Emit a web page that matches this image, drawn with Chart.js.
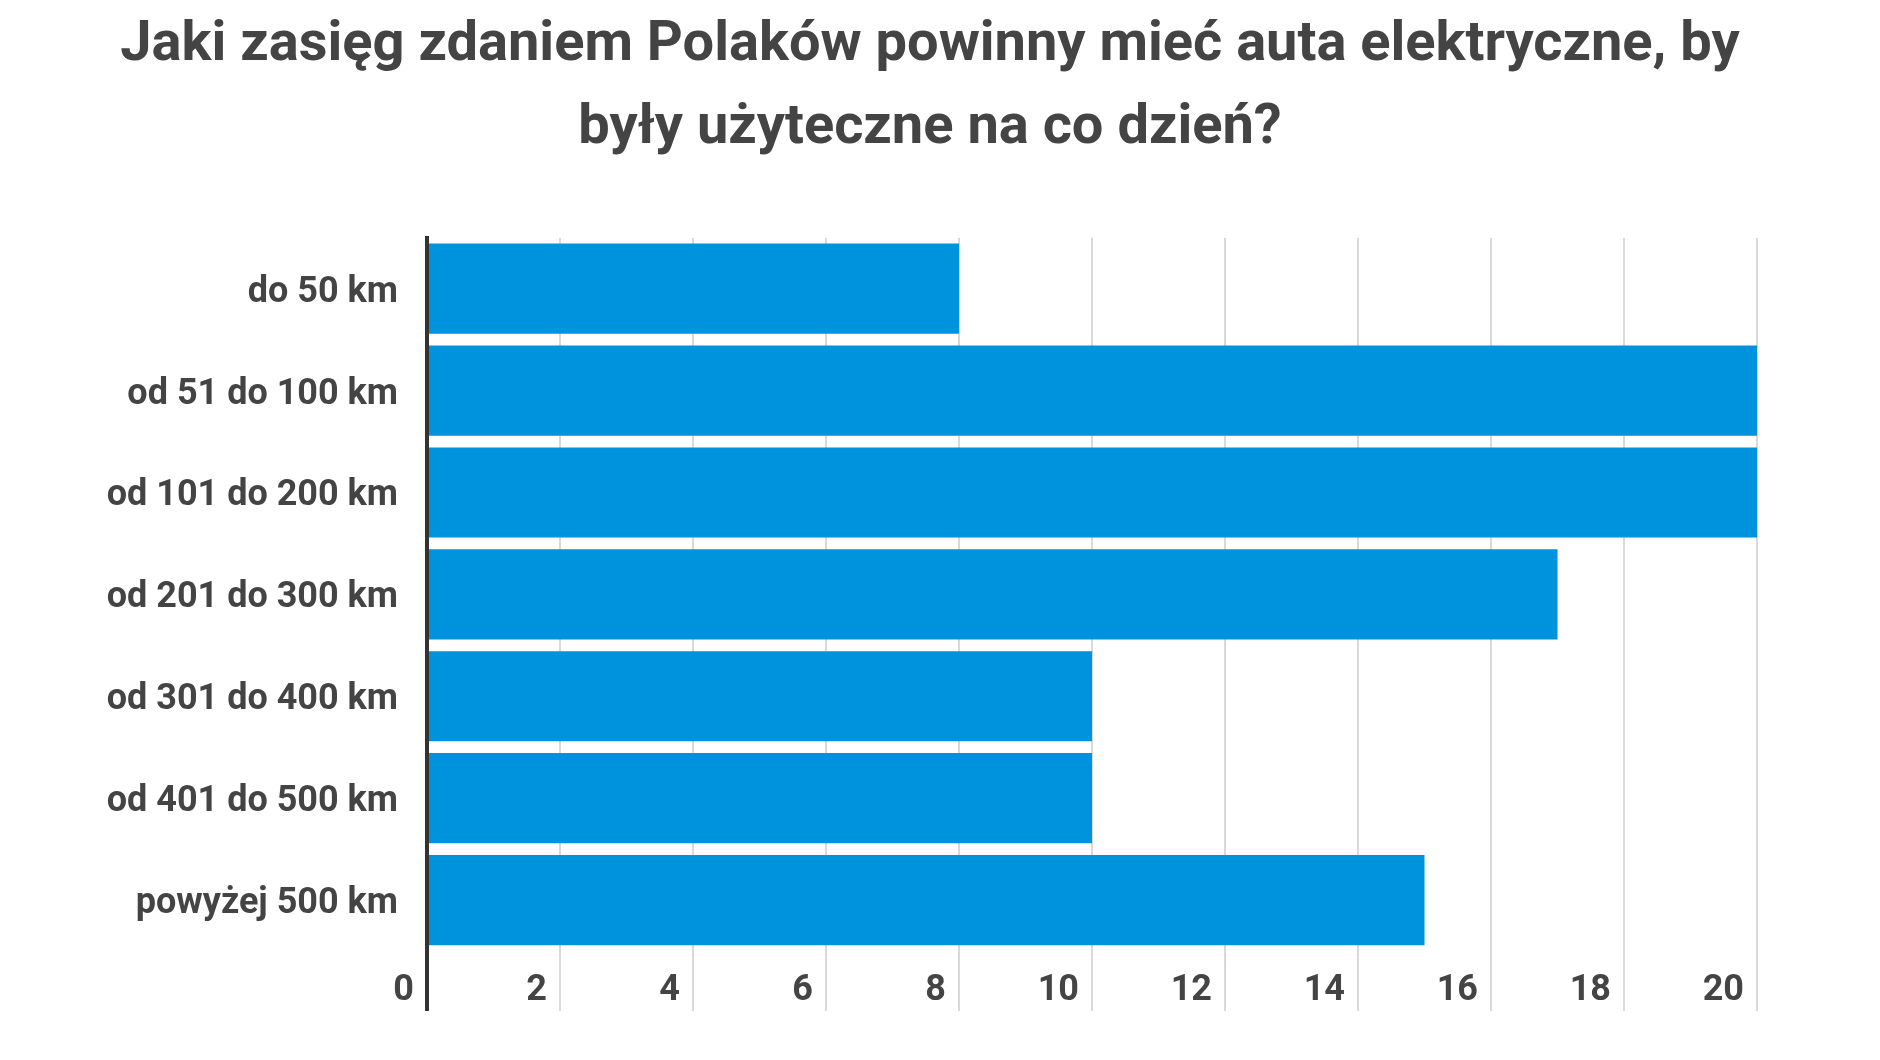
<!DOCTYPE html>
<html lang="pl">
<head>
<meta charset="utf-8">
<title>Zasięg aut elektrycznych</title>
<script src="https://cdn.jsdelivr.net/npm/chart.js@4.4.1/dist/chart.umd.min.js"></script>
<style>
  html, body { margin: 0; padding: 0; background: #fff; }
  #wrap { width: 1880px; height: 1060px; position: relative; }
</style>
</head>
<body>
<div id="wrap"><canvas id="chart"></canvas></div>
<script>
// dane z wykresu
const titleLines = ['Jaki zasięg zdaniem Polaków powinny mieć auta elektryczne, by', 'były użyteczne na co dzień?'];
const categories = ['do 50 km', 'od 51 do 100 km', 'od 101 do 200 km', 'od 201 do 300 km', 'od 301 do 400 km', 'od 401 do 500 km', 'powyżej 500 km'];
const values = [8, 20, 20, 17, 10, 10, 15];
const xMin = 0, xMax = 20, xStep = 2;

const textColor = '#444444';
const barColor = '#0093dd';

new Chart(document.getElementById('chart'), {
  type: 'bar',
  data: {
    labels: categories,
    datasets: [{
      data: values,
      backgroundColor: barColor,
      borderWidth: 0,
      barPercentage: 1,
      categoryPercentage: 0.885
    }]
  },
  options: {
    indexAxis: 'y',
    responsive: true,
    maintainAspectRatio: false,
    animation: false,
    layout: { padding: { left: 0, right: 20, top: 0, bottom: 0 } },
    plugins: {
      legend: { display: false },
      tooltip: { enabled: false },
      title: {
        display: true,
        text: titleLines,
        color: textColor,
        font: { family: 'Roboto', weight: 'bold', size: 56, lineHeight: 1.48 },
        padding: { top: 5, bottom: 67 }
      }
    },
    scales: {
      x: {
        min: xMin,
        max: xMax,
        afterFit: scale => { scale.height = 109; },   // oś X: stała wysokość
        border: { display: false },
        grid: {
          color: ctx => (ctx.tick && ctx.tick.value === 0) ? '#333333' : '#d9d9d9',
          lineWidth: ctx => (ctx.tick && ctx.tick.value === 0) ? 4 : 2,
          tickLength: 60
        },
        ticks: {
          stepSize: xStep,
          autoSkip: false,
          maxRotation: 0,
          align: 'end',
          labelOffset: -13,
          padding: -42,
          color: textColor,
          font: { family: 'Roboto', weight: 'bold', size: 36 }
        }
      },
      y: {
        afterFit: scale => { scale.width = 427; },    // lewa krawędź obszaru wykresu
        border: { display: true, color: '#333333', width: 4 },
        grid: { display: false, drawTicks: false },
        ticks: {
          padding: 29,
          labelOffset: 4,
          color: textColor,
          font: { family: 'Roboto', weight: 'bold', size: 36 }
        }
      },
      // pusta oś po prawej, żeby zostawić margines jak w oryginale
      yRight: {
        type: 'category',
        position: 'right',
        afterFit: scale => { scale.width = 103; },
        border: { display: false },
        grid: { display: false, drawTicks: false },
        ticks: { display: false }
      }
    }
  }
});
</script>
</body>
</html>
